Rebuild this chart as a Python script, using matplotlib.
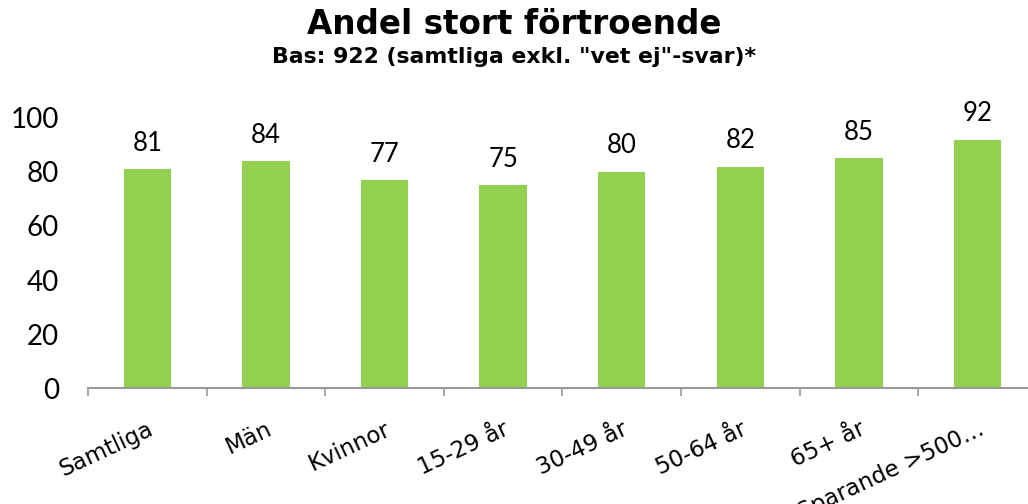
import matplotlib.pyplot as plt
import numpy as np

categories = ['Samtliga', 'Män', 'Kvinnor', '15-29 år', '30-49 år',
              '50-64 år', '65+ år', 'Sparande >500…']
values = [81, 84, 77, 75, 80, 82, 85, 92]
yticks = [0, 20, 40, 60, 80, 100]

fig = plt.figure(figsize=(10.28, 5.04), dpi=100)
# the plot area runs a little past the right edge, as in the original
ax = fig.add_axes([0.0856, 0.230, 0.923, 0.536])

x = np.arange(len(categories))
ax.bar(x, values, width=0.40, color='#92D050', zorder=2)

for xi, v in zip(x, values):
    ax.text(xi, v + 5, str(v), ha='center', va='bottom',
            fontsize=18.5, family=['Lato', 'DejaVu Sans'])

ax.set_xlim(-0.5, len(categories) - 0.5)
ax.set_ylim(0, 100)
ax.set_yticks(yticks)
ax.set_yticklabels([str(t) for t in yticks], fontsize=20,
                   family=['Lato', 'DejaVu Sans'])
ax.tick_params(axis='y', length=0, pad=21)

# tick marks between categories
ax.set_xticks(np.arange(-0.5, len(categories), 1.0), minor=True)
ax.set_xticks(x)
ax.set_xticklabels(categories, rotation=25, ha='right',
                   rotation_mode='anchor', fontsize=16.5)
ax.tick_params(axis='x', which='major', length=0, pad=21)
ax.tick_params(axis='x', which='minor', length=6, width=1.2, color='#999999')

for s in ['top', 'right', 'left']:
    ax.spines[s].set_visible(False)
ax.spines['bottom'].set_color('#999999')
ax.spines['bottom'].set_linewidth(1.5)

fig.text(0.5, 0.952, 'Andel stort förtroende', ha='center', va='center',
         fontsize=23.5, fontweight='bold')
fig.text(0.5, 0.887, 'Bas: 922 (samtliga exkl. "vet ej"-svar)*', ha='center',
         va='center', fontsize=15.8, fontweight='bold')

fig.savefig('out.png', dpi=100)
